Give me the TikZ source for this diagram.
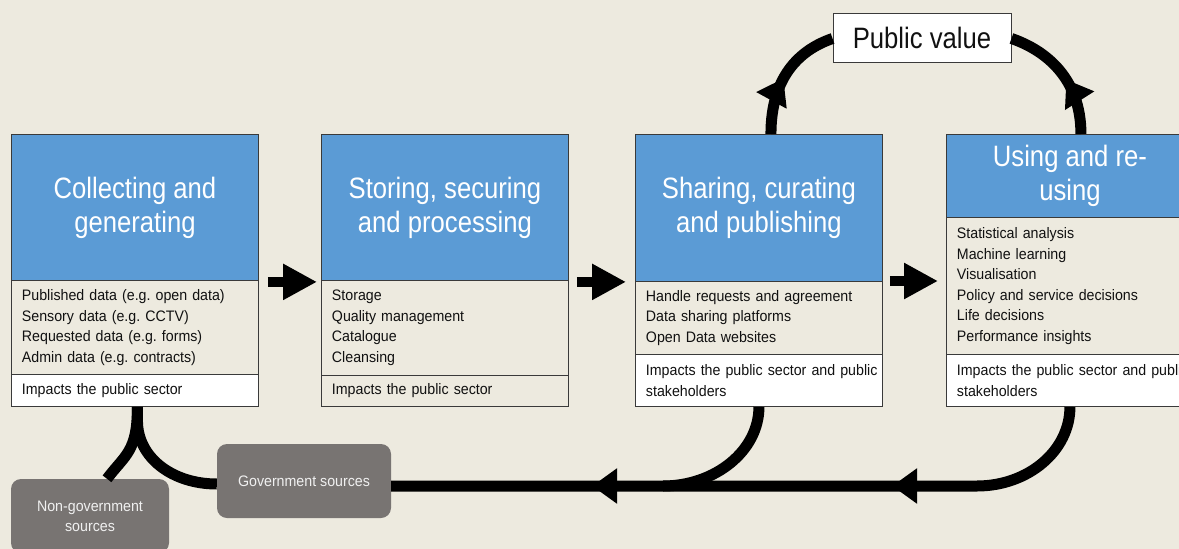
\documentclass[tikz,border=0pt]{standalone}
\usepackage{fontspec}
\setmainfont{Liberation Sans}
\newfontfamily\bodyf{Liberation Sans}[FakeStretch=0.935]
\newfontfamily\titlef{Liberation Sans}[FakeStretch=0.87]
\usetikzlibrary{arrows.meta,decorations.markings,calc}
\definecolor{bgc}{HTML}{EDEADF}
\definecolor{boxblue}{HTML}{5B9BD5}
\definecolor{srcgray}{HTML}{787472}
\definecolor{edge}{HTML}{3A3A3A}
\definecolor{ink}{HTML}{111111}
\frenchspacing
\begin{document}
\begin{tikzpicture}[x=1pt,y=-1pt,
  titlebox/.style={draw=edge, line width=0.9pt, fill=boxblue, text=white,
    font=\titlef\fontsize{29.5}{34}\selectfont, align=center,
    minimum width=247pt, inner sep=0pt, anchor=north west},
  bodybox/.style={draw=edge, line width=0.9pt, fill=bgc, text=ink,
    font=\bodyf\fontsize{15.2}{20.5}\selectfont, align=left,
    text width=226pt, inner xsep=10.5pt, inner ysep=0pt, anchor=north west},
  impbox/.style={bodybox, fill=white},
  srcbox/.style={fill=srcgray, rounded corners=10pt, text=white!94!black,
    font=\bodyf\fontsize{15.2}{20}\selectfont, align=center, inner sep=0pt},
  flow/.style={line width=11pt, black},
  blockarrow/.style={line width=10pt, black, -{Triangle[width=34pt,length=34pt]}},
  midtip/.style={postaction={decorate}, decoration={markings,
    mark=at position #1 with {\arrow{Triangle[width=33pt,length=25pt]}}}},
  twotips/.style 2 args={postaction={decorate}, decoration={markings,
    mark=at position #1 with {\arrow{Triangle[width=34pt,length=25pt]}},
    mark=at position #2 with {\arrow{Triangle[width=34pt,length=25pt]}}}}
]
\useasboundingbox (0,0) rectangle (1179,549);
\clip (0,0) rectangle (1179,549);
\fill[bgc] (0,0) rectangle (1179,549);

% Stage 1
\node[titlebox, minimum height=146pt] (t1) at (11,134) {Collecting and\\generating};
\node[bodybox, minimum height=94pt] (b1) at (11,280) {Published data (e.g. open data)\\Sensory data (e.g. CCTV)\\Requested data (e.g. forms)\\Admin data (e.g. contracts)};
\node[impbox, minimum height=32pt] (i1) at (11,374) {Impacts the public sector};

% Stage 2
\node[titlebox, minimum height=146pt] (t2) at (321,134) {Storing, securing\\and processing};
\node[bodybox, minimum height=95pt] (b2) at (321,280) {Storage\\Quality management\\Catalogue\\Cleansing};
\node[bodybox, minimum height=31pt] (i2) at (321,375) {Impacts the public sector};

% Stage 3
\node[titlebox, minimum height=147pt] (t3) at (635,134) {Sharing, curating\\and publishing};
\node[bodybox, minimum height=73pt] (b3) at (635,281) {Handle requests and agreement\\Data sharing platforms\\Open Data websites};
\node[impbox, minimum height=52pt] (i3) at (635,354) {\mbox{Impacts the public sector and public}\\stakeholders};

% Stage 4
\node[titlebox, minimum height=83pt] (t4) at (946,134) {Using and re-\\using};
\node[bodybox, minimum height=137pt] (b4) at (946,217) {Statistical analysis\\Machine learning\\Visualisation\\Policy and service decisions\\Life decisions\\Performance insights};
\node[impbox, minimum height=52pt] (i4) at (946,354) {\mbox{Impacts the public sector and public}\\stakeholders};

% Public value
\node[draw=edge, line width=0.9pt, fill=white, text=ink,
  font=\titlef\fontsize{29.5}{34}\selectfont,
  minimum width=178pt, minimum height=49pt, inner sep=0pt] (pv) at (922,37.5) {Public value};

% Sources
\node[srcbox, minimum width=174pt, minimum height=74pt] (gov) at (304,481) {Government sources};
\node[srcbox, minimum width=158pt, minimum height=74pt] (ngov) at (90,516) {Non-government\\sources};

% Arrows between stages
\draw[blockarrow] ($(t1.south east)+(9,1)$) -- ($(t2.south west)+(-4,1)$);
\draw[blockarrow] ($(t2.south east)+(8,1)$) -- ($(t3.south west)+(-9,0)$);
\draw[blockarrow] ($(b3.north east)+(7,0)$) -- ($(t4.west |- b3.north)+(-8,0)$);

% Arcs to public value
\draw[flow, midtip=0.47] ($(t3.north)+(12,0)$) .. controls +(0,-55) and +(-35,12) .. ($(pv.west)+(0,1)$);
\draw[flow, midtip=0.45] ($(t4.north)+(11,0)$) .. controls +(0,-55) and +(35,12) .. ($(pv.east)+(0,1)$);

% Bottom return loop
\coordinate (ly) at (0,486);
\coordinate (m3) at (663,486);
\coordinate (c4) at (977,486);
\draw[flow, twotips={-501pt}{-201pt}] (i4.south) .. controls +(0,44) and +(51,0) .. (c4) -- (gov.east |- ly);
\draw[flow] (i3.south) .. controls +(0,44) and +(52,0) .. (m3);

% Left fork to sources
\coordinate (stem) at ($(i1.south)+(2.5,0)$);
\coordinate (fork) at ($(i1.south)+(2.5,14)$);
\coordinate (gl) at ($(gov.west)+(0,3)$);
\coordinate (nl) at ($(ngov.north)+(17,0)$);
\draw[flow] (stem) -- (fork) .. controls +(0,37) and +(-44,0) .. (gl);
\draw[flow] (stem) .. controls +(0,45) and +(18,-24) .. (nl);
\end{tikzpicture}
\end{document}
